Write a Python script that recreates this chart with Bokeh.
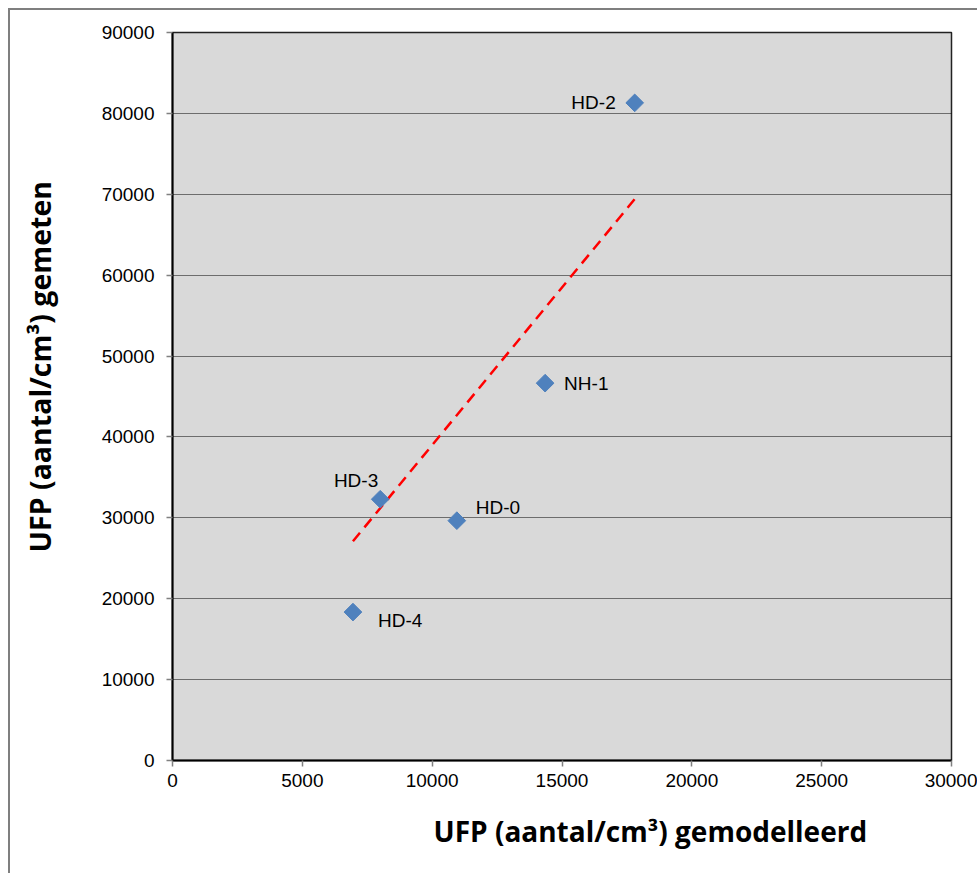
import numpy as np
from bokeh.plotting import figure
from bokeh.models import (ColumnDataSource, FixedTicker, NumeralTickFormatter, Title, Range1d)
from bokeh.core.properties import value
from bokeh.embed import file_html
from bokeh.resources import INLINE

# ---- data ----
names = ["HD-2", "NH-1", "HD-0", "HD-3", "HD-4"]
modelled = [17800, 14350, 10950, 8000, 6950]
measured = [81300, 46650, 29650, 32300, 18350]
trend_x = [6950, 17800]
trend_y = [27100, 69400]
x_ticks = [0, 5000, 10000, 15000, 20000, 25000, 30000]
y_ticks = [0, 10000, 20000, 30000, 40000, 50000, 60000, 70000, 80000, 90000]
x_title = "UFP (aantal/cm³) gemodelleerd"
y_title = "UFP (aantal/cm³)  gemeten"

# label placement (screen px)
lab_dx = [-19, 19, 19, -2, 25]
lab_dy = [0, 0, -13, -19, 8]
lab_align = ["right", "left", "left", "right", "left"]

W, H = 969, 865
p = figure(width=W, height=H, output_backend="svg", toolbar_location=None,
           x_range=Range1d(0, 30000), y_range=Range1d(0, 90000),
           min_border_left=162, min_border_right=28, min_border_top=22, min_border_bottom=115)
p.background_fill_color = "#d9d9d9"
p.border_fill_color = "white"
p.outline_line_color = "#222222"
p.outline_line_width = 1.5
p.styles = {"border-top": "2px solid #7f7f7f", "border-left": "2px solid #7f7f7f",
            "margin-top": "8px", "margin-left": "8px"}

p.xgrid.grid_line_color = None
p.ygrid.grid_line_color = "#000000"
p.ygrid.grid_line_width = 1
p.ygrid.grid_line_dash = "1 1"
p.ygrid.ticker = FixedTicker(ticks=y_ticks)

for ax, ticks in ((p.xaxis[0], x_ticks), (p.yaxis[0], y_ticks)):
    ax.ticker = FixedTicker(ticks=ticks)
    ax.formatter = NumeralTickFormatter(format="0")
    ax.axis_line_color = "black"
    ax.axis_line_width = 2
    ax.major_tick_line_color = "#808080"
    ax.major_tick_line_width = 1.5
    ax.major_tick_out = 6
    ax.major_tick_in = 0
    ax.minor_tick_line_color = None
    ax.major_label_text_font = "Liberation Sans"
    ax.major_label_text_font_size = "19px"
    ax.major_label_text_color = "black"
p.xaxis.major_label_standoff = 7
p.yaxis.major_label_standoff = 12
# spacer between y tick labels and the y title
p.yaxis.axis_label = " "
p.yaxis.axis_label_text_font_size = "2px"
p.yaxis.axis_label_standoff = 27

# trend line
p.line(trend_x, trend_y, line_color="#ff0000", line_width=2.5, line_dash="11 7")

src = ColumnDataSource(dict(x=modelled, y=measured, name=names, dx=lab_dx, dy=lab_dy, align=lab_align))
p.scatter("x", "y", source=src, marker="square", size=12.5, angle=np.pi / 4,
          fill_color="#4f81bd", line_color="#4f81bd")
p.text("x", "y", text="name", source=src, x_offset="dx", y_offset="dy",
       text_align="align", text_baseline="middle",
       text_font=value("Liberation Sans"), text_font_size="19px", text_color="black")

# axis titles
p.add_layout(Title(text=x_title, align="left", offset=261, standoff=40,
                   text_font="Open Sans", text_font_style="bold", text_font_size="28px",
                   text_color="black"), "below")
p.add_layout(Title(text=y_title, align="left", offset=208, standoff=16,
                   text_font="Open Sans", text_font_style="bold", text_font_size="28.5px",
                   text_color="black"), "left")

open("out.html", "w").write(file_html(p, INLINE))
